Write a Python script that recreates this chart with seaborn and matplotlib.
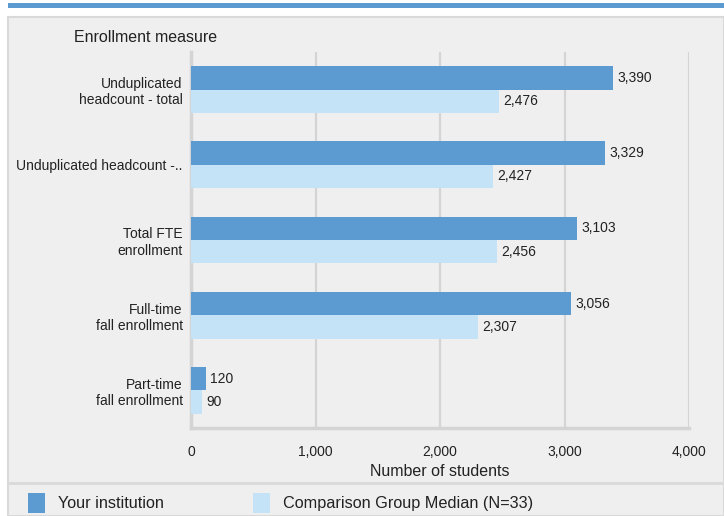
import pandas as pd
import numpy as np
import matplotlib
matplotlib.use("Agg")
import matplotlib.pyplot as plt
import matplotlib.patches as mpatches
import matplotlib.lines as mlines
from matplotlib.ticker import MultipleLocator, FuncFormatter
import seaborn as sns

# chart data
categories = ["Unduplicated\nheadcount - total", "Unduplicated headcount -..",
              "Total FTE\nenrollment", "Full-time\nfall enrollment",
              "Part-time\nfall enrollment"]
your_institution = [3390, 3329, 3103, 3056, 120]
comparison_median = [2476, 2427, 2456, 2307, 90]
series_names = ["Your institution", "Comparison Group Median (N=33)"]

df = pd.DataFrame({
    "measure": categories * 2,
    "value": your_institution + comparison_median,
    "group": [series_names[0]] * 5 + [series_names[1]] * 5,
})

sns.set_style("white")
plt.rcParams["font.family"] = ["Liberation Sans", "DejaVu Sans"]
txt = "#222222"
dark = "#5b9bd1"
light = "#c5e3f6"
grid_c = "#d4d4d4"
bg = "#efefef"

W, H = 724, 516
fig = plt.figure(figsize=(W / 100, H / 100), dpi=100)
fig.patch.set_facecolor("white")

def fx(x):
    return x / W

def fy(y):
    return 1 - y / H

# panel background, border and top band
fig.add_artist(mpatches.Rectangle((fx(8), fy(516)), fx(724) - fx(8), fy(17) - fy(516),
                                  transform=fig.transFigure, facecolor=bg,
                                  edgecolor="#d9d9d9", linewidth=1.5, zorder=0))
fig.add_artist(mpatches.Rectangle((fx(8), fy(7.5)), fx(724) - fx(8), fy(3) - fy(7.5),
                                  transform=fig.transFigure, facecolor=dark,
                                  edgecolor="none", zorder=0))
fig.add_artist(mlines.Line2D([fx(8), fx(724)], [fy(483), fy(483)],
                             transform=fig.transFigure, color="#d9d9d9", linewidth=2))

ax = fig.add_axes([fx(191), fy(428), fx(689) - fx(191), fy(52) - fy(428)])
ax.patch.set_visible(False)

sns.barplot(data=df, x="value", y="measure", hue="group", orient="h",
            palette=[dark, light], width=0.62, ax=ax, legend=False,
            saturation=1, linewidth=0, zorder=3)

ax.set_xlim(0, 4000)
ax.set_ylim(4.5, -0.5)
ax.xaxis.set_major_locator(MultipleLocator(1000))
ax.xaxis.set_minor_locator(MultipleLocator(500))
ax.xaxis.set_major_formatter(FuncFormatter(lambda v, p: f"{int(v):,}"))
ax.grid(axis="x", which="major", color=grid_c, linewidth=1.6, zorder=0)
for s in ["top", "right"]:
    ax.spines[s].set_visible(False)
for s in ["left", "bottom"]:
    ax.spines[s].set_color(grid_c)
    ax.spines[s].set_linewidth(2.5)
ax.tick_params(axis="x", which="major", length=7, width=1.5, color=grid_c,
               labelsize=10, labelcolor=txt, pad=5)
ax.tick_params(axis="x", which="minor", length=3, width=1.5, color=grid_c)
ax.tick_params(axis="y", length=0, labelsize=10, labelcolor=txt, pad=6)
ax.set_xlabel("Number of students", fontsize=11.5, color=txt, labelpad=4)
ax.set_ylabel("")

for cont in ax.containers:
    ax.bar_label(cont, labels=[f"{int(v):,}" for v in cont.datavalues],
                 padding=3, fontsize=10, color=txt)

fig.text(fx(74), fy(37), "Enrollment measure", fontsize=11.5, color=txt,
         ha="left", va="center")

handles = [mpatches.Patch(facecolor=dark, edgecolor="none"),
           mpatches.Patch(facecolor=light, edgecolor="none")]
fig.legend(handles, series_names, loc="center left",
           bbox_to_anchor=(fx(13), fy(503)), ncol=2, frameon=False,
           fontsize=11.7, handlelength=1.05, handleheight=1.5,
           handletextpad=0.8, columnspacing=5.5, labelcolor=txt)

fig.savefig("out.png", dpi=100)
